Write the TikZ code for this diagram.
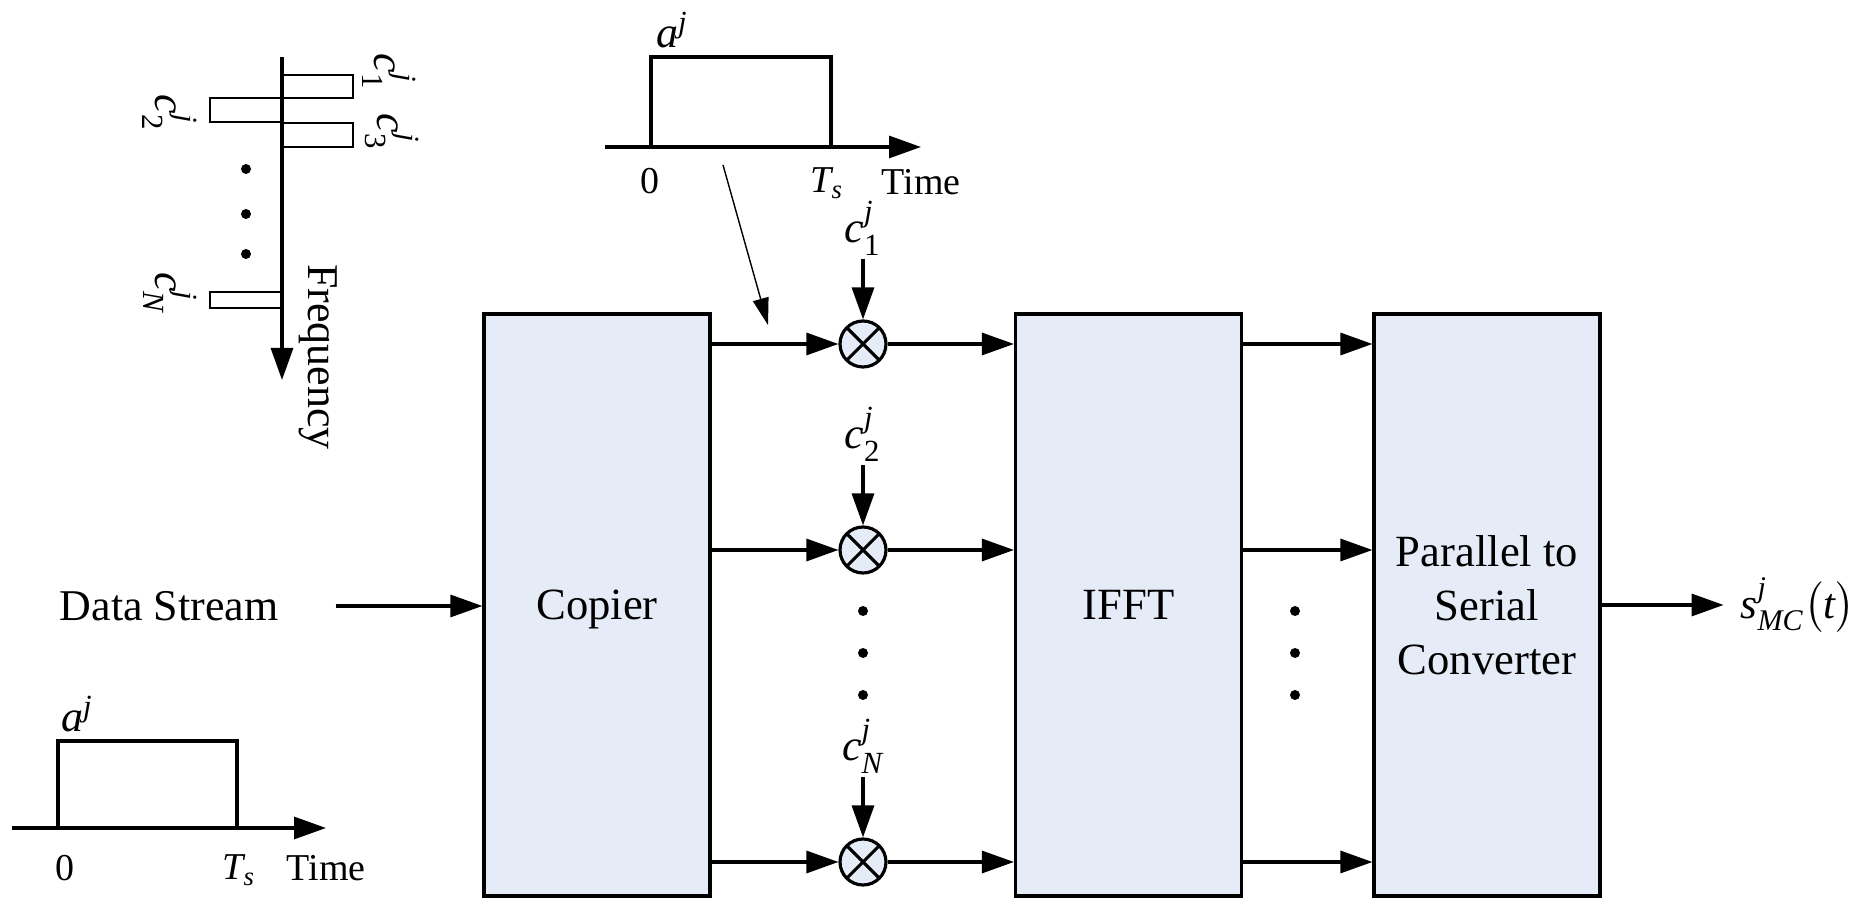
\documentclass[tikz,border=0pt]{standalone}
\usepackage{amsmath}
\usepackage{fontspec}
\setmainfont{Liberation Serif}
\usetikzlibrary{arrows.meta, positioning}
\definecolor{blockfill}{RGB}{230, 236, 247}
\newcommand{\mi}[1]{\textit{#1}}
\tikzset{
    block/.style={rectangle, draw=black, fill=blockfill, line width=0.9pt, minimum width=2.26cm, minimum height=5.82cm, align=center, inner sep=0pt, font=\fontsize{12.7}{15.4}\selectfont},
    mixer/.style={circle, draw=black, fill=blockfill, line width=0.9pt, minimum size=0.46cm, inner sep=0pt, path picture={\draw[line width=0.9pt] (path picture bounding box.north west) -- (path picture bounding box.south east) (path picture bounding box.north east) -- (path picture bounding box.south west);}},
    arrow/.style={-{Triangle[length=0.32cm, width=0.22cm]}, line width=0.9pt},
    thinarrow/.style={-{Triangle[length=0.27cm, width=0.16cm]}, line width=0.4pt},
    dotmark/.style={circle, fill=black, inner sep=0pt, minimum size=0.1cm},
    mathlbl/.style={inner sep=1pt, font=\fontsize{12.5}{14}\selectfont},
    axislbl/.style={inner sep=1pt, font=\fontsize{10.8}{12}\selectfont}
}

\begin{document}
\begin{tikzpicture}[font=\fontsize{12.5}{15}\selectfont, node distance=0.6cm]
            \useasboundingbox (0,0) rectangle (18.56,-8.99);

            % blocks
            \node (copier) [block, text depth=0pt] at (5.97,-6.05) {Copier};
            \node (ifft) [block] at (11.285,-6.05) {IFFT};
            \node (ps) [block] at (14.87,-6.05) {Parallel to\\Serial\\Converter};

            % mixers and carriers
            \node (mix1) [mixer] at (8.63,-3.44) {};
            \node (mix2) [mixer] at (8.63,-5.50) {};
            \node (mixN) [mixer] at (8.63,-8.62) {};
            \node (c1) [mathlbl, above=of mix1] {$\mi{c}^{\mi{j}}_{\text{1}}$};
            \node (c2) [mathlbl, above=of mix2] {$\mi{c}^{\mi{j}}_{\text{2}}$};
            \node (cN) [mathlbl, above=of mixN] {$\mi{c}^{\mi{j}}_{\mi{N}}$};
            \foreach \m/\c in {mix1/c1, mix2/c2, mixN/cN} {
                \draw [arrow] (\c) -- (\m);
                \draw [arrow] (\m -| copier.east) -- (\m);
                \draw [arrow] (\m) -- (\m -| ifft.west);
                \draw [arrow] (\m -| ifft.east) -- (\m -| ps.west);
            }
            \foreach \y [count=\i] in {-6.11, -6.53, -6.95} {
                \node (mdot\i) [dotmark] at (8.63,\y) {};
                \node (pdot\i) [dotmark] at (12.95,\y) {};
            }

            % input and output
            \node (data) at (1.69,-6.06) {Data Stream};
            \draw [arrow] ([xshift=0.45cm]data.east) -- (data.east -| copier.west);
            \node (out) [mathlbl, right=1.35cm of ps, font=\fontsize{12.2}{14}\selectfont] {$\mi{s}^{\mi{j}}_{\mi{MC}}\big(\mi{t}\big)$};
            \draw [arrow] (ps) -- ([xshift=-0.13cm]out.west);

            % top pulse
            \coordinate (tax0) at (6.05,-1.47);
            \coordinate (tax1) at (9.21,-1.47);
            \draw [arrow] (tax0) -- (tax1);
            \draw [line width=0.9pt] (6.51,-1.47) -- (6.51,-0.57) -- (8.31,-0.57) -- (8.31,-1.47);
            \node (ta) [mathlbl, anchor=base west] at (6.52,-0.48) {$\mi{a}^{\mi{j}}$};
            \node (t0) [axislbl] at (6.50,-1.81) {0};
            \node (tts) [axislbl] at (8.27,-1.83) {$\mi{T}_{\mi{s}}$};
            \node (ttime) [axislbl] at (9.21,-1.82) {Time};
            \coordinate (tfrom) at (7.23,-1.65);
            \coordinate (tto) at (7.68,-3.25);
            \draw [thinarrow] (tfrom) -- (tto);

            % bottom pulse
            \coordinate (bax0) at (0.12,-8.28);
            \coordinate (bax1) at (3.26,-8.28);
            \draw [arrow] (bax0) -- (bax1);
            \draw [line width=0.9pt] (0.58,-8.28) -- (0.58,-7.41) -- (2.37,-7.41) -- (2.37,-8.28);
            \node (ba) [mathlbl, anchor=base west] at (0.57,-7.32) {$\mi{a}^{\mi{j}}$};
            \node (b0) [axislbl] at (0.65,-8.68) {0};
            \node (bts) [axislbl] at (2.39,-8.70) {$\mi{T}_{\mi{s}}$};
            \node (btime) [axislbl] at (3.26,-8.68) {Time};

            % spectrum
            \coordinate (fax0) at (2.82,-0.57);
            \coordinate (fax1) at (2.82,-3.80);
            \draw [arrow] (fax0) -- (fax1);
            \draw [line width=0.8pt] (2.82,-0.75) rectangle (3.53,-0.98);
            \draw [line width=0.8pt] (2.10,-0.98) rectangle (2.82,-1.22);
            \draw [line width=0.8pt] (2.82,-1.23) rectangle (3.53,-1.47);
            \draw [line width=0.8pt] (2.10,-2.92) rectangle (2.82,-3.08);
            \node (f1) [mathlbl, rotate=-90] at (3.89,-0.72) {$\mi{c}^{\mi{j}}_{\text{1}}$};
            \node (f3) [mathlbl, rotate=-90] at (3.92,-1.32) {$\mi{c}^{\mi{j}}_{\text{3}}$};
            \node (f2) [mathlbl, rotate=-90] at (1.70,-1.13) {$\mi{c}^{\mi{j}}_{\text{2}}$};
            \node (fN) [mathlbl, rotate=-90] at (1.70,-2.93) {$\mi{c}^{\mi{j}}_{\mi{N}}$};
            \foreach \y [count=\i] in {-1.69, -2.14, -2.54} {
                \node (fdot\i) [dotmark] at (2.46,\y) {};
            }
            \node (freq) [rotate=-90] at (3.18,-3.57) {Frequency};
        \end{tikzpicture}
\end{document}
